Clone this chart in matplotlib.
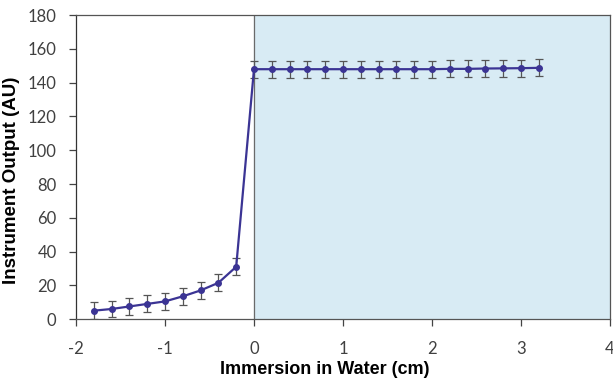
import matplotlib
matplotlib.use("Agg")
import matplotlib.pyplot as plt
import numpy as np

# air side (negative immersion)
x_air = [-1.8, -1.6, -1.4, -1.2, -1.0, -0.8, -0.6, -0.4, -0.2]
y_air = [5, 6, 7.5, 9, 10.5, 13.5, 17, 21.5, 31]
# water side
x_water = [0, 0.2, 0.4, 0.6, 0.8, 1.0, 1.2, 1.4, 1.6, 1.8, 2.0, 2.2, 2.4, 2.6, 2.8, 3.0, 3.2]
y_water = [148, 148, 148, 148, 148, 148, 148, 148, 148, 148, 148, 148.2, 148.2, 148.4, 148.5, 148.6, 148.8]
err = 5

xticks = [-2, -1, 0, 1, 2, 3, 4]
yticks = [0, 20, 40, 60, 80, 100, 120, 140, 160, 180]

x = np.array(x_air + x_water)
y = np.array(y_air + y_water)

fig = plt.figure(figsize=(6.13, 3.79), dpi=100)
ax = fig.add_axes([0.124, 0.158, 0.871, 0.802])

ax.axvspan(0, 4, color='#d8ebf4', zorder=0)
ax.axvline(0, color='#6a6a6a', lw=0.9, zorder=1)

ax.errorbar(x, y, yerr=err, color='#3b3494', lw=1.6, marker='o', ms=4,
            ecolor='#555555', elinewidth=0.9, capsize=3, capthick=0.9, zorder=3)

ax.set_xlim(-2, 4)
ax.set_ylim(0, 180)
ax.set_xticks(xticks)
ax.set_yticks(yticks)
ax.set_xticklabels([str(t) for t in xticks], fontsize=12, color='#404040', family='Lato')
ax.set_yticklabels([str(t) for t in yticks], fontsize=12, color='#404040', family='Lato')
ax.tick_params(direction='out', length=5, width=0.9, color='#444444')
ax.tick_params(axis='y', pad=9)
ax.tick_params(axis='x', pad=11)

for s in ax.spines.values():
    s.set_color('#555555')
    s.set_linewidth(0.9)
ax.spines['left'].set_color('#333333')

ax.set_xlabel('Immersion in Water (cm)', fontsize=13, fontweight='bold',
              family='Liberation Sans')
ax.xaxis.set_label_coords(0.465, -0.138)
ax.set_ylabel('Instrument Output (AU)', fontsize=13.5, fontweight='bold',
              family='Liberation Sans')
ax.yaxis.set_label_coords(-0.105, 0.457)

fig.savefig('out.png', dpi=100)
